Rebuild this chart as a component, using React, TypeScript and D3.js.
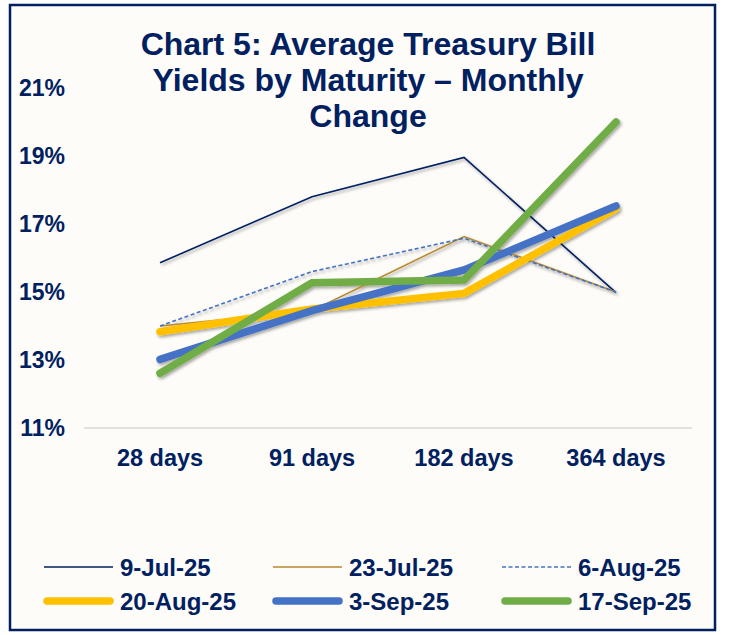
import React from "react";
import * as d3 from "d3";

// maturities on the x axis
const maturities = ["28 days", "91 days", "182 days", "364 days"];

// auction dates (legend order)
const auctionDates = ["9-Jul-25", "23-Jul-25", "6-Aug-25", "20-Aug-25", "3-Sep-25", "17-Sep-25"];

// average yields (%) per auction, one value per maturity
const jul9 = [15.86, 17.8, 18.96, 14.98];
const jul23 = [14.0, 14.45, 16.63, 15.0];
const aug6 = [14.0, 15.6, 16.58, 15.0];
const aug20 = [13.83, 14.5, 14.96, 17.45];
const sep3 = [13.02, 14.45, 15.65, 17.53];
const sep17 = [12.61, 15.27, 15.35, 20.0];

const yTicks = [11, 13, 15, 17, 19, 21];

const titleLines = ["Chart 5: Average Treasury Bill", "Yields by Maturity \u2013 Monthly", "Change"];

const NAVY = "#002060";

const seriesStyle = [
  { color: "#002060", width: 1.6, dash: null, cap: "butt" },
  { color: "#B8892E", width: 1.6, dash: null, cap: "butt" },
  { color: "#4472C4", width: 1.6, dash: "4,2.5", cap: "butt" },
  { color: "#FFC000", width: 7.5, dash: null, cap: "round" },
  { color: "#4472C4", width: 7.5, dash: null, cap: "round" },
  { color: "#70AD47", width: 7.5, dash: null, cap: "round" },
];

export default function App() {
  const W = 733;
  const H = 635;
  const font = "'Liberation Sans', Arial, sans-serif";

  const series = [jul9, jul23, aug6, aug20, sep3, sep17];

  const x = d3.scaleBand().domain(maturities).range([84, 692]);
  const y = d3.scaleLinear().domain([11, 21]).range([428, 88]);
  const cx = (c: string) => (x(c) as number) + x.bandwidth() / 2;

  const line = d3
    .line<number>()
    .x((_, i) => cx(maturities[i]))
    .y((d) => y(d));

  // legend layout
  const legCols = [44, 273, 502];
  const legRows = [567, 601];

  return (
    <svg
      width={W}
      height={H}
      style={{ position: "absolute", left: 0, top: 0, background: "#ffffff" }}
    >
      <defs>
        <filter id="shadow" x="-10%" y="-10%" width="130%" height="140%">
          <feDropShadow dx="1.5" dy="2" stdDeviation="1.6" floodColor="#000" floodOpacity="0.35" />
        </filter>
      </defs>
      <rect x={10} y={5} width={705} height={625} fill="#FDFCF8" stroke={NAVY} strokeWidth={2.5} />

      {/* title */}
      {titleLines.map((t, i) => (
        <text
          key={t}
          x={368}
          y={55 + i * 36}
          textAnchor="middle"
          fontFamily={font}
          fontWeight="bold"
          fontSize={32}
          fill={NAVY}
        >
          {t}
        </text>
      ))}

      {/* y tick labels */}
      {yTicks.map((t) => (
        <text
          key={t}
          x={65}
          y={y(t) + 8}
          textAnchor="end"
          fontFamily={font}
          fontWeight="bold"
          fontSize={23}
          fill={NAVY}
        >
          {t}%
        </text>
      ))}

      {/* baseline */}
      <line x1={84} x2={692} y1={y(11)} y2={y(11)} stroke="#D9D9D9" strokeWidth={1.5} />

      {/* x labels */}
      {maturities.map((m) => (
        <text
          key={m}
          x={cx(m)}
          y={466}
          textAnchor="middle"
          fontFamily={font}
          fontWeight="bold"
          fontSize={23.5}
          fill={NAVY}
        >
          {m}
        </text>
      ))}

      {/* lines */}
      <g filter="url(#shadow)">
        {series.map((s, i) => (
          <path
            key={auctionDates[i]}
            d={line(s) || ""}
            fill="none"
            stroke={seriesStyle[i].color}
            strokeWidth={seriesStyle[i].width}
            strokeDasharray={seriesStyle[i].dash || undefined}
            strokeLinecap={seriesStyle[i].cap as any}
            strokeLinejoin="miter"
          />
        ))}
      </g>

      {/* legend */}
      {auctionDates.map((d, i) => {
        const lx = legCols[i % 3];
        const ly = legRows[Math.floor(i / 3)];
        const st = seriesStyle[i];
        const thick = st.width > 3;
        return (
          <g key={d}>
            <line
              x1={thick ? lx + 3 : lx}
              x2={thick ? lx + 66 : lx + 69}
              y1={ly}
              y2={ly}
              stroke={st.color}
              strokeWidth={st.width}
              strokeDasharray={st.dash || undefined}
              strokeLinecap={st.cap as any}
            />
            <text
              x={lx + 76}
              y={ly + 8.5}
              fontFamily={font}
              fontWeight="bold"
              fontSize={24}
              fill={NAVY}
            >
              {d}
            </text>
          </g>
        );
      })}
    </svg>
  );
}
